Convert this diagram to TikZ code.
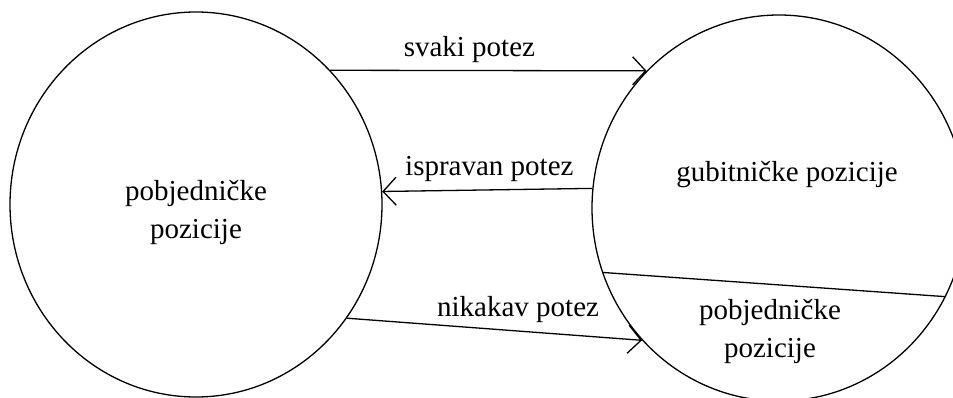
\documentclass[tikz,border=0pt]{standalone}
\usepackage{fontspec}
\setmainfont{Liberation Serif}
\usetikzlibrary{shapes.geometric,arrows.meta}

\begin{document}
\begin{tikzpicture}[x=1pt,y=-1pt,line width=1.3pt,
  skup/.style={draw,ellipse,inner sep=0pt},
  tekst/.style={align=center,font=\fontsize{29}{38}\selectfont},
  potez/.style={-{Straight Barb[length=13pt,width=28pt]}},
  oznaka/.style={font=\fontsize{29}{35}\selectfont,above=4pt}]
\useasboundingbox (0,0) rectangle (953,398);
% skupovi pozicija
\node[skup,minimum width=372pt,minimum height=385pt] (L) at (196,204.5) {};
\node[skup,minimum width=374pt,minimum height=386pt] (R) at (779,208) {};
\draw (R.200.5) -- (R.332.9);
\node[tekst] (lpoz) at ([yshift=-7.5pt]L.center) {pobjedničke\\pozicije};
\node[tekst] (gub) at ([xshift=8pt,yshift=33pt]R.center) {gubitničke pozicije};
\node[tekst] (rpoz) at ([xshift=-9pt,yshift=-123pt]R.center) {pobjedničke\\pozicije};
% potezi
\draw[potez] (L.45) -- node[oznaka,pos=.44] (lsvaki) {svaki potez} (R.134);
\draw[potez] (R.174.1) -- node[oznaka,pos=.49] (lisp) {ispravan potez} (L.4.8);
\draw[potez] (L.323.8) -- node[oznaka,pos=.58] (lnik) {nikakav potez} (R.224.4);
\end{tikzpicture}
\end{document}
